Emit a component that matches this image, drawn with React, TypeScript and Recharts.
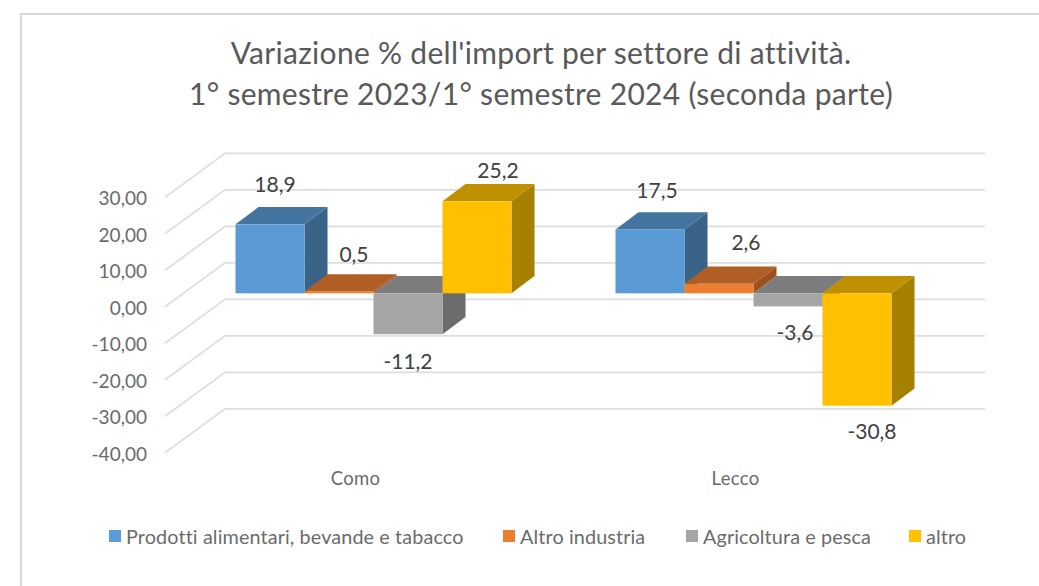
import * as React from 'react';
import { Bar, BarChart, CartesianGrid, LabelList, Legend, XAxis, YAxis } from 'recharts';

const categories = ['Como', 'Lecco'];
const alimentari = [18.9, 17.5];
const altroIndustria = [0.5, 2.6];
const agricoltura = [-11.2, -3.6];
const altro = [25.2, -30.8];
const valueTicks = [-40, -30, -20, -10, 0, 10, 20, 30];

const data = categories.map((name, i) => ({
  name,
  alimentari: alimentari[i],
  altroIndustria: altroIndustria[i],
  agricoltura: agricoltura[i],
  altro: altro[i],
}));

const FONT = 'Lato, sans-serif';
const DEPTH_X = 23;
const DEPTH_Y = 17.3;

const shades: Record<string, { top: string; side: string }> = {
  '#5B9BD5': { top: '#4474A0', side: '#396487' },
  '#ED7D31': { top: '#B15E24', side: '#9C521F' },
  '#A5A5A5': { top: '#7C7C7C', side: '#6C6C6C' },
  '#FFC000': { top: '#BF9000', side: '#A68000' },
};

// the labels were dragged by hand in the original, so each one has its own nudge
const nudges: Record<string, [number, number][]> = {
  alimentari: [[5, -39.5], [7, -38.5]],
  altroIndustria: [[15, -37], [27, -41]],
  agricoltura: [[0, 27], [7, 26]],
  altro: [[21, -31], [15, 26]],
};

const Bar3D = (props: any) => {
  const { x, y, width, height, fill } = props;
  const top = Math.min(y, y + height);
  const bottom = Math.max(y, y + height);
  const right = x + width;
  const shade = shades[fill];
  return (
    <g>
      <polygon
        points={`${right},${top} ${right + DEPTH_X},${top - DEPTH_Y} ${right + DEPTH_X},${bottom - DEPTH_Y} ${right},${bottom}`}
        fill={shade.side}
      />
      <polygon
        points={`${x},${top} ${right},${top} ${right + DEPTH_X},${top - DEPTH_Y} ${x + DEPTH_X},${top - DEPTH_Y}`}
        fill={shade.top}
      />
      <rect x={x} y={top} width={width} height={bottom - top} fill={fill} />
    </g>
  );
};

const wallLine = (props: any) => {
  const { x1, x2, y1, key } = props;
  return (
    <polyline
      key={key}
      points={`${x1 - 18.5},${y1 + 13.5} ${x1 + 41.5},${y1 - 30.5} ${x2 + 41.5},${y1 - 30.5}`}
      fill="none"
      stroke="#DEDEDE"
      strokeWidth={1.8}
    />
  );
};

const ValueTick = (props: any) => {
  const { y, payload } = props;
  return (
    <text x={147} y={y + 15} dy="0.35em" textAnchor="end" fontFamily={FONT} fontSize={19} fill="#6B6B6B">
      {payload.value.toFixed(2).replace('.', ',')}
    </text>
  );
};

const CategoryTick = (props: any) => {
  const { x, payload } = props;
  return (
    <text x={x - 18} y={479} dy="0.35em" textAnchor="middle" fontFamily={FONT} fontSize={18.5} letterSpacing={0.3} fill="#6B6B6B">
      {payload.value}
    </text>
  );
};

const dataLabel = (series: string) => (props: any) => {
  const { x, y, width, height, value, index } = props;
  const [dx, dy] = nudges[series][index];
  const edge = value < 0 ? Math.max(y, y + height) : Math.min(y, y + height);
  return (
    <text
      x={x + width / 2 + dx}
      y={edge + dy}
      dy="0.35em"
      textAnchor="middle"
      fontFamily={FONT}
      fontSize={21}
      fill="#404040"
    >
      {value.toFixed(1).replace('.', ',')}
    </text>
  );
};

const legendX = [109, 503, 686, 909];

const LegendRow = (props: any) => (
  <div>
    {props.payload.map((item: any, i: number) => (
      <div
        key={item.value}
        style={{
          position: 'absolute',
          left: legendX[i],
          top: 524,
          height: 24,
          display: 'flex',
          alignItems: 'center',
          whiteSpace: 'nowrap',
          fontFamily: FONT,
          fontSize: 19.8,
          letterSpacing: 0.12,
          color: '#6B6B6B',
        }}
      >
        <span style={{ width: 12, height: 12, marginRight: 5, background: item.color }} />
        {item.value}
      </div>
    ))}
  </div>
);

const App = () => (
  <div style={{ position: 'absolute', left: 0, top: 0, width: 1039, height: 586, overflow: 'hidden', background: '#fff' }}>
    <div style={{ position: 'absolute', left: 20, top: 13, width: 1100, height: 700, borderTop: '2px solid #D9D9D9', borderLeft: '2px solid #D9D9D9' }} />
    <div style={{ position: 'absolute', left: 0, top: 31.5, width: 1082, textAlign: 'center', fontFamily: FONT, fontSize: 30, letterSpacing: 0.3, lineHeight: '41px', color: '#595959' }}>
      Variazione % dell'import per settore di attività.
      <br />
      1° semestre 2023/1° semestre 2024 (seconda parte)
    </div>
    <div style={{ position: 'absolute', left: 0, top: 0 }}>
      <BarChart
        width={1039}
        height={586}
        data={data}
        barSize={69}
        barGap={0}
        margin={{ left: 0, right: 95.5, top: 183.8, bottom: 86.7 }}
      >
        <CartesianGrid vertical={false} horizontal={wallLine} />
        <XAxis dataKey="name" axisLine={false} tickLine={false} height={60} tick={CategoryTick} />
        <YAxis
          domain={[-40, 30]}
          ticks={valueTicks}
          axisLine={false}
          tickLine={false}
          width={183.5}
          tick={ValueTick}
          interval={0}
        />
        <Legend
          layout="horizontal"
          align="center"
          verticalAlign="middle"
          itemSorter={null}
          wrapperStyle={{ left: 0, top: 0, width: 0, height: 0 }}
          content={LegendRow}
        />
        <Bar dataKey="alimentari" name="Prodotti alimentari, bevande e tabacco" fill="#5B9BD5" shape={Bar3D} isAnimationActive={false}>
          <LabelList dataKey="alimentari" content={dataLabel('alimentari')} />
        </Bar>
        <Bar dataKey="altroIndustria" name="Altro industria" fill="#ED7D31" shape={Bar3D} isAnimationActive={false}>
          <LabelList dataKey="altroIndustria" content={dataLabel('altroIndustria')} />
        </Bar>
        <Bar dataKey="agricoltura" name="Agricoltura e pesca" fill="#A5A5A5" shape={Bar3D} isAnimationActive={false}>
          <LabelList dataKey="agricoltura" content={dataLabel('agricoltura')} />
        </Bar>
        <Bar dataKey="altro" name="altro" fill="#FFC000" shape={Bar3D} isAnimationActive={false}>
          <LabelList dataKey="altro" content={dataLabel('altro')} />
        </Bar>
      </BarChart>
    </div>
  </div>
);

export default App;
